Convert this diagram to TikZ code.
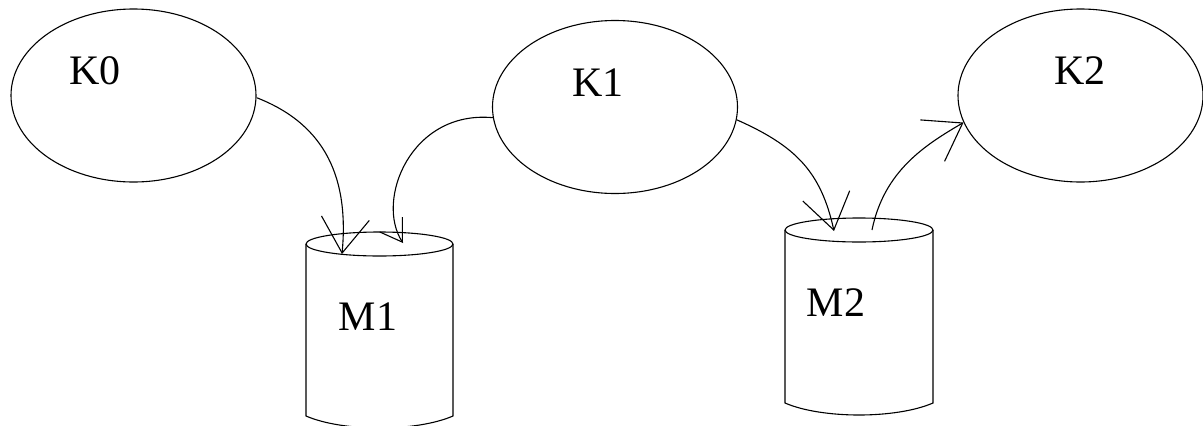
\documentclass[tikz,border=0pt]{standalone}
\usepackage{fontspec}
\setmainfont{Liberation Serif}
\usetikzlibrary{shapes.geometric,arrows.meta}
\begin{document}
\begin{tikzpicture}[x=1pt,y=-1pt,
  line width=1.1pt,
  keynode/.style={draw, ellipse, minimum width=245pt, minimum height=173pt, inner sep=0pt},
  caption/.style={inner sep=0pt, font=\fontsize{42}{50}\selectfont},
  cyl/.style={line join=miter},
  flow/.style={-{Straight Barb[length=35pt,width=48pt]}},
  smallflow/.style={-{Straight Barb[length=21pt,width=27pt]}}]
\useasboundingbox (0,0) rectangle (1203,426);

% key ellipses
\node[keynode] (k0) at (133.5,95.5) {};
\node[keynode] (k1) at (615,107) {};
\node[keynode] (k2) at (1080.5,95.5) {};
\node[caption] (k0t) at (95,71) {K0};
\node[caption] (k1t) at (598,83) {K1};
\node[caption] (k2t) at (1080,71) {K2};

% store M1
\draw[cyl] (306,244) -- (306,416) .. controls (343,432) and (416,432) .. (453,416) -- (453,244);
\draw (379.5,244) ellipse [x radius=73.5, y radius=12];
\node[caption] (m1) at (368,317) {M1};
\coordinate (m1a) at (342,254);
\coordinate (m1b) at (403,243);

% store M2
\draw[cyl] (785,230) -- (785,403) .. controls (822,419) and (896,419) .. (933,403) -- (933,230);
\draw (859,230) ellipse [x radius=74, y radius=12];
\node[caption] (m2) at (836,303) {M2};
\coordinate (m2a) at (834,231);
\coordinate (m2b) at (872,230);

% connectors
\draw[flow] (k0.-1) .. controls (327,125) and (349,180) .. (m1a);
\draw[smallflow] (k1.185) .. controls (411,110) and (375,200) .. (m1b);
\draw[flow] (k1.-6) .. controls (796,146) and (821,172) .. (m2a);
\draw[flow] (m2b) .. controls (884,171) and (925,145) .. (k2.193);
\end{tikzpicture}
\end{document}
